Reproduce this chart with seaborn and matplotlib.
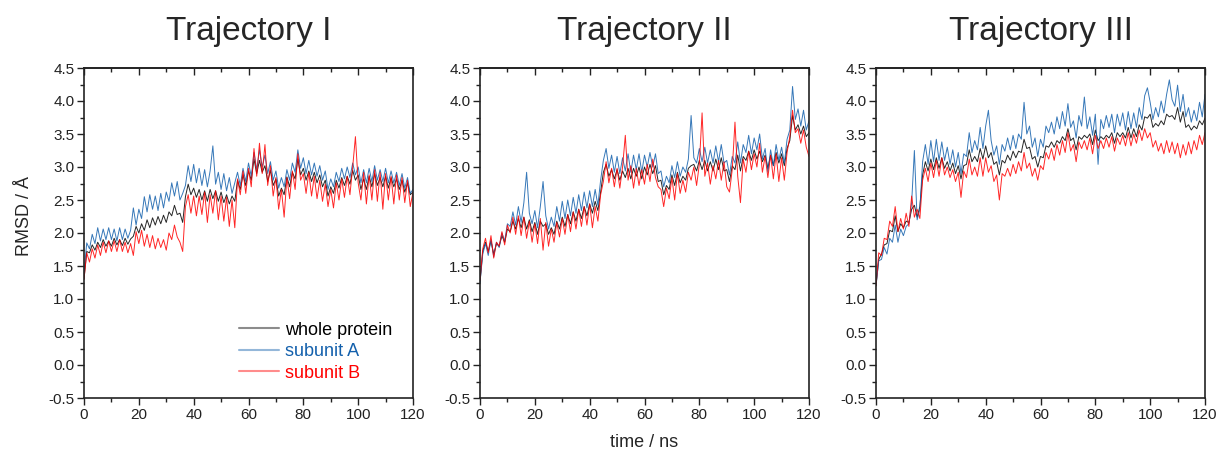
import pandas as pd
import matplotlib.pyplot as plt
import seaborn as sns
from matplotlib.ticker import MultipleLocator, FormatStrFormatter, NullFormatter

# time axis, one sample per ns
time_ns = list(range(0, 121))

# Trajectory I
traj1_whole = [
    1.30, 1.72, 1.70, 1.82, 1.74, 1.86, 1.78, 1.90, 1.80, 1.88, 1.80, 1.92, 1.82, 1.90, 1.81, 1.92, 1.83, 1.91, 1.95, 2.10,
    2.00, 2.14, 2.04, 2.20, 2.08, 2.23, 2.12, 2.25, 2.14, 2.27, 2.16, 2.32, 2.26, 2.42, 2.28, 2.30, 2.16, 2.55, 2.74, 2.58,
    2.68, 2.54, 2.66, 2.50, 2.64, 2.48, 2.66, 2.52, 2.64, 2.48, 2.62, 2.46, 2.58, 2.44, 2.56, 2.48, 2.80, 2.66, 2.88, 2.72,
    2.94, 2.80, 3.12, 2.90, 3.10, 2.92, 3.02, 2.78, 2.95, 2.72, 2.82, 2.56, 2.68, 2.58, 2.85, 2.70, 2.92, 2.82, 3.12, 2.88,
    2.98, 2.80, 2.94, 2.78, 2.92, 2.76, 2.88, 2.70, 2.80, 2.56, 2.70, 2.60, 2.80, 2.68, 2.84, 2.72, 2.86, 2.74, 2.95, 2.80,
    2.88, 2.66, 2.82, 2.66, 2.86, 2.70, 2.90, 2.72, 2.84, 2.70, 2.86, 2.68, 2.84, 2.70, 2.82, 2.66, 2.80, 2.62, 2.76, 2.58,
    2.62,
]
traj1_subA = [
    1.40, 1.85, 1.76, 1.98, 1.84, 2.08, 1.88, 2.06, 1.90, 2.08, 1.90, 2.06, 1.88, 2.08, 1.90, 2.06, 1.92, 2.04, 2.38, 2.12,
    2.36, 2.22, 2.55, 2.32, 2.58, 2.36, 2.56, 2.34, 2.60, 2.38, 2.62, 2.48, 2.76, 2.56, 2.78, 2.50, 2.60, 2.72, 3.02, 2.78,
    3.04, 2.76, 2.98, 2.72, 2.96, 2.70, 2.94, 3.32, 2.74, 2.92, 2.66, 2.90, 2.64, 2.84, 2.60, 2.76, 2.92, 2.72, 2.98, 2.78,
    3.06, 2.86, 3.22, 2.96, 3.26, 3.00, 3.18, 2.90, 3.08, 2.80, 2.94, 2.68, 2.84, 2.70, 2.96, 2.80, 3.06, 2.92, 3.26, 2.98,
    3.14, 2.90, 3.10, 2.88, 3.06, 2.86, 3.02, 2.80, 2.94, 2.66, 2.82, 2.70, 2.92, 2.78, 2.98, 2.82, 3.00, 2.84, 3.06, 2.88,
    3.00, 2.76, 2.96, 2.76, 2.98, 2.78, 3.02, 2.80, 2.96, 2.78, 2.98, 2.76, 2.94, 2.76, 2.92, 2.72, 2.90, 2.68, 2.84, 2.60,
    2.66,
]
traj1_subB = [
    1.30, 1.70, 1.56, 1.76, 1.62, 1.82, 1.66, 1.86, 1.70, 1.88, 1.72, 1.88, 1.72, 1.90, 1.72, 1.86, 1.70, 1.84, 1.66, 2.02,
    1.84, 2.04, 1.80, 1.98, 1.78, 1.96, 1.76, 1.92, 1.78, 1.90, 1.74, 2.00, 1.90, 2.12, 1.94, 1.86, 1.72, 2.40, 2.58, 2.30,
    2.56, 2.26, 2.56, 2.28, 2.62, 2.16, 2.58, 2.30, 2.64, 2.20, 2.56, 2.18, 2.54, 2.10, 2.50, 2.08, 2.82, 2.58, 2.94, 2.60,
    2.98, 2.70, 3.28, 2.86, 3.36, 2.90, 3.34, 2.72, 3.02, 2.56, 2.84, 2.36, 2.66, 2.24, 2.84, 2.52, 2.94, 2.66, 3.20, 2.80,
    2.90, 2.60, 2.92, 2.56, 2.86, 2.52, 2.80, 2.48, 2.74, 2.40, 2.66, 2.38, 2.76, 2.50, 2.82, 2.54, 2.86, 2.58, 3.00, 3.46,
    2.76, 2.50, 2.92, 2.44, 2.88, 2.50, 2.96, 2.48, 2.92, 2.36, 2.90, 2.50, 2.86, 2.44, 2.88, 2.50, 2.84, 2.46, 2.80, 2.40,
    2.62,
]

# Trajectory II
traj2_whole = [
    1.25, 1.72, 1.86, 1.72, 1.88, 1.68, 1.84, 1.80, 1.96, 1.86, 2.06, 2.02, 2.18, 2.06, 2.22, 2.08, 2.24, 2.06, 2.20, 2.02,
    2.16, 1.98, 2.18, 2.10, 2.14, 1.98, 2.08, 1.98, 2.18, 2.06, 2.24, 2.10, 2.28, 2.14, 2.32, 2.18, 2.36, 2.22, 2.40, 2.26,
    2.44, 2.30, 2.48, 2.34, 2.62, 2.92, 3.04, 2.86, 2.96, 2.82, 2.96, 2.80, 2.94, 2.84, 2.98, 2.82, 2.98, 2.86, 3.00, 2.82,
    3.00, 2.88, 3.04, 2.90, 3.02, 2.78, 2.80, 2.58, 2.72, 2.66, 2.88, 2.72, 2.92, 2.76, 2.86, 2.80, 2.98, 3.02, 3.04, 2.94,
    3.10, 2.96, 3.10, 2.94, 3.08, 2.94, 3.12, 2.96, 3.14, 2.94, 2.96, 2.78, 3.02, 2.96, 3.18, 2.94, 3.16, 3.10, 3.24, 3.10,
    3.26, 3.12, 3.24, 3.08, 3.18, 2.98, 3.18, 3.02, 3.22, 3.06, 3.20, 3.02, 3.28, 3.40, 3.78, 3.56, 3.64, 3.50, 3.62, 3.46,
    3.52,
]
traj2_subA = [
    1.25, 1.68, 1.84, 1.66, 1.90, 1.64, 1.86, 1.78, 2.00, 1.88, 2.14, 2.10, 2.32, 2.12, 2.40, 2.16, 2.46, 2.92, 2.30, 2.14,
    2.34, 2.08, 2.40, 2.78, 2.26, 2.06, 2.24, 2.10, 2.40, 2.18, 2.48, 2.22, 2.50, 2.26, 2.54, 2.30, 2.58, 2.34, 2.62, 2.38,
    2.64, 2.40, 2.66, 2.42, 2.80, 3.10, 3.28, 2.98, 3.18, 2.92, 3.16, 2.90, 3.14, 2.94, 3.20, 2.92, 3.18, 2.96, 3.20, 2.92,
    3.18, 3.00, 3.22, 3.00, 3.20, 2.90, 2.94, 2.70, 2.86, 2.76, 3.02, 2.84, 3.08, 2.86, 3.00, 2.92, 3.12, 3.78, 3.14, 3.06,
    3.28, 3.08, 3.30, 3.06, 3.26, 3.06, 3.32, 3.08, 3.34, 3.06, 3.10, 2.88, 3.16, 3.06, 3.38, 3.06, 3.34, 3.22, 3.48, 3.20,
    3.44, 3.26, 3.50, 3.12, 3.28, 2.92, 3.26, 3.02, 3.34, 3.10, 3.30, 3.06, 3.42, 3.56, 4.22, 3.72, 3.88, 3.62, 3.86, 3.56,
    3.70,
]
traj2_subB = [
    1.28, 1.76, 1.92, 1.70, 1.96, 1.62, 1.86, 1.80, 2.02, 1.82, 2.12, 2.00, 2.24, 1.98, 2.26, 1.96, 2.24, 1.92, 2.18, 1.86,
    2.14, 1.84, 2.22, 1.74, 2.16, 1.80, 2.06, 1.86, 2.16, 1.94, 2.22, 1.98, 2.28, 2.02, 2.32, 2.06, 2.36, 2.10, 2.40, 2.12,
    2.44, 2.08, 2.40, 2.18, 2.58, 2.78, 3.08, 2.76, 2.98, 2.70, 2.98, 2.68, 3.00, 3.48, 2.80, 3.02, 2.68, 2.98, 2.72, 2.96,
    2.74, 3.04, 2.78, 3.12, 2.84, 2.70, 2.66, 2.40, 2.68, 2.52, 2.84, 2.50, 2.90, 2.60, 2.80, 2.62, 2.92, 2.80, 3.00, 2.72,
    3.04, 3.82, 2.86, 3.06, 2.74, 3.02, 2.82, 3.10, 2.80, 3.08, 2.70, 2.62, 2.96, 3.68, 2.86, 2.46, 3.12, 2.92, 3.24, 2.96,
    3.20, 3.00, 3.36, 2.92, 3.16, 2.84, 3.18, 2.82, 3.20, 2.78, 3.14, 2.80, 3.22, 3.46, 3.86, 3.52, 3.58, 3.36, 3.56, 3.30,
    3.16,
]

# Trajectory III
traj3_whole = [
    1.20, 1.60, 1.68, 1.82, 1.84, 2.04, 2.02, 2.26, 2.02, 2.14, 2.08, 2.18, 2.16, 2.36, 2.42, 2.24, 2.40, 2.88, 3.08, 2.94,
    3.12, 2.96, 3.14, 2.98, 3.14, 2.98, 3.08, 2.94, 3.06, 2.90, 3.02, 2.82, 3.02, 3.04, 3.26, 3.08, 3.16, 3.08, 3.28, 3.12,
    3.32, 3.14, 3.22, 3.04, 3.08, 2.88, 3.10, 3.06, 3.18, 3.10, 3.24, 3.14, 3.24, 3.22, 3.42, 3.28, 3.30, 3.12, 3.16, 3.00,
    3.16, 3.14, 3.32, 3.30, 3.38, 3.30, 3.40, 3.36, 3.46, 3.40, 3.58, 3.40, 3.44, 3.26, 3.46, 3.42, 3.48, 3.44, 3.50, 3.34,
    3.56, 3.40, 3.46, 3.42, 3.48, 3.44, 3.52, 3.36, 3.52, 3.46, 3.52, 3.44, 3.60, 3.44, 3.58, 3.46, 3.64, 3.56, 3.76, 3.74,
    3.80, 3.60, 3.66, 3.62, 3.70, 3.64, 3.80, 3.76, 3.78, 3.72, 3.90, 3.68, 3.84, 3.60, 3.64, 3.56, 3.62, 3.58, 3.70, 3.64,
    3.74,
]
traj3_subA = [
    1.20, 1.58, 1.60, 1.78, 1.68, 1.92, 1.86, 2.12, 1.86, 2.06, 1.96, 2.10, 2.14, 2.46, 3.25, 2.20, 2.36, 3.08, 3.34, 3.04,
    3.40, 3.08, 3.42, 3.10, 3.38, 3.10, 3.30, 3.04, 3.26, 3.00, 3.22, 2.90, 3.20, 3.16, 3.52, 3.22, 3.40, 3.26, 3.60, 3.28,
    3.62, 3.86, 3.40, 3.18, 3.32, 3.04, 3.34, 3.24, 3.44, 3.26, 3.48, 3.28, 3.50, 3.42, 3.98, 3.50, 3.62, 3.30, 3.44, 3.16,
    3.42, 3.30, 3.62, 3.52, 3.68, 3.50, 3.76, 3.58, 3.84, 3.62, 3.96, 3.60, 3.70, 3.44, 3.78, 3.62, 4.06, 3.58, 3.76, 3.48,
    3.80, 3.04, 3.72, 3.58, 3.78, 3.60, 3.80, 3.52, 3.80, 3.62, 3.82, 3.56, 3.84, 3.58, 3.82, 3.60, 3.90, 3.72, 4.08, 4.20,
    3.98, 3.72, 3.90, 3.76, 4.00, 3.82, 4.10, 4.32, 4.02, 3.92, 4.24, 3.84, 4.10, 3.76, 3.90, 3.68, 3.86, 3.70, 3.98, 3.76,
    4.10,
]
traj3_subB = [
    1.20, 1.70, 1.66, 1.92, 1.90, 2.18, 2.10, 2.40, 2.02, 2.22, 2.06, 2.30, 2.10, 2.56, 2.24, 2.36, 2.22, 2.80, 2.98, 2.78,
    3.06, 2.84, 3.10, 2.86, 3.14, 2.88, 3.00, 2.84, 2.96, 2.78, 2.92, 2.54, 2.94, 2.84, 3.12, 2.88, 3.00, 2.86, 3.14, 2.86,
    3.14, 2.92, 3.02, 2.78, 2.88, 2.50, 2.90, 2.86, 2.98, 2.86, 3.04, 2.90, 3.08, 2.94, 3.22, 2.98, 3.06, 2.86, 2.98, 2.80,
    3.02, 2.96, 3.22, 3.12, 3.28, 3.10, 3.34, 3.18, 3.40, 3.22, 3.52, 3.24, 3.34, 3.08, 3.38, 3.28, 3.40, 3.26, 3.44, 3.20,
    3.48, 3.28, 3.40, 3.28, 3.44, 3.30, 3.46, 3.24, 3.44, 3.34, 3.48, 3.32, 3.52, 3.32, 3.50, 3.36, 3.56, 3.40, 3.58, 3.44,
    3.52, 3.30, 3.40, 3.24, 3.36, 3.20, 3.40, 3.22, 3.38, 3.20, 3.36, 3.14, 3.34, 3.18, 3.38, 3.20, 3.40, 3.26, 3.48, 3.34,
    3.52,
]

titles = ["Trajectory I", "Trajectory II", "Trajectory III"]
series_names = ["whole protein", "subunit A", "subunit B"]
colors = ["#000000", "#1360ac", "#ff0000"]

panels = [
    [traj1_whole, traj1_subA, traj1_subB],
    [traj2_whole, traj2_subA, traj2_subB],
    [traj3_whole, traj3_subA, traj3_subB],
]

sns.set_style("ticks")
plt.rcParams["font.family"] = ["Liberation Sans", "DejaVu Sans"]

fig = plt.figure(figsize=(12.19, 4.55), dpi=100)
lefts = [84 / 1219, 480 / 1219, 876 / 1219]
bottom = 57 / 455
width = 329 / 1219
height = 330 / 455

for i, (title, panel) in enumerate(zip(titles, panels)):
    ax = fig.add_axes([lefts[i], bottom, width, height])
    for name, vals, col in zip(series_names, panel, colors):
        df = pd.DataFrame({"time": time_ns, "rmsd": vals})
        sns.lineplot(data=df, x="time", y="rmsd", ax=ax, color=col, lw=0.7,
                     alpha=0.85, label=name)

    ax.set_xlim(0, 120)
    ax.set_ylim(-0.5, 4.5)
    ax.xaxis.set_major_locator(MultipleLocator(20))
    ax.xaxis.set_minor_locator(MultipleLocator(10))
    ax.yaxis.set_major_locator(MultipleLocator(0.5))
    ax.yaxis.set_minor_locator(MultipleLocator(0.25))
    ax.yaxis.set_major_formatter(FormatStrFormatter("%.1f"))
    ax.xaxis.set_major_formatter(FormatStrFormatter("%d"))
    ax.tick_params(axis="both", which="major", direction="out", length=5, width=1,
                   labelsize=11, colors="#222222", pad=2)
    ax.tick_params(axis="both", which="minor", direction="out", length=3, width=1,
                   colors="#222222")
    ax.tick_params(axis="y", which="both", right=False)
    ax.tick_params(axis="x", which="both", top=False)

    # mirrored ticks on the top edge, pointing inwards
    top = ax.secondary_xaxis("top")
    top.xaxis.set_major_locator(MultipleLocator(20))
    top.xaxis.set_minor_locator(MultipleLocator(10))
    top.xaxis.set_major_formatter(NullFormatter())
    top.tick_params(axis="x", which="major", direction="in", length=5, width=1, colors="#222222")
    top.tick_params(axis="x", which="minor", direction="in", length=3, width=1, colors="#222222")
    top.spines["top"].set_linewidth(1.2)
    top.spines["top"].set_color("#222222")

    for s in ax.spines.values():
        s.set_linewidth(1.2)
        s.set_color("#222222")

    ax.set_title(title, fontsize=24, pad=20)
    ax.set_xlabel("")
    ax.set_ylabel("")

    if i == 0:
        ax.set_ylabel("RMSD / Å", fontsize=13)
        ax.yaxis.set_label_coords(-0.155, 0.55)
        leg = ax.legend(loc="lower left", bbox_to_anchor=(0.423, 0.0), frameon=False,
                        fontsize=13, handlelength=2.2, handletextpad=0.35,
                        labelspacing=0.25, labelcolor=colors)
        for h in leg.get_lines():
            h.set_alpha(0.45)
            h.set_linewidth(1.5)
    else:
        ax.get_legend().remove()
    if i == 1:
        ax.set_xlabel("time / ns", fontsize=13, labelpad=9)

fig.savefig("out.png", dpi=100)
